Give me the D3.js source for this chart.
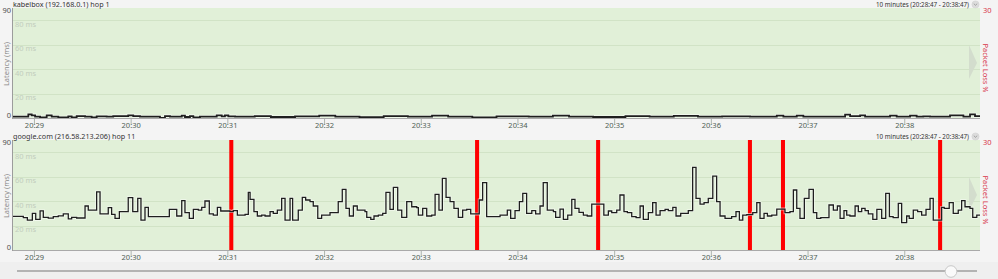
<!DOCTYPE html>
<html><head><meta charset="utf-8">
<script src="https://cdn.jsdelivr.net/npm/d3@7"></script>
<style>
html,body{margin:0;padding:0;background:#f4f4f4;}
svg{display:block;font-family:"Noto Sans",sans-serif;}
</style></head>
<body><svg id="c" width="998" height="279"></svg>
<script>
// ---- data ----
const rangeStart = "20:28:47";
const rangeEnd = "20:38:47";
const rangeLabel = "10 minutes (20:28:47 - 20:38:47)";
const yMaxLatency = 90;
const yMaxLoss = 30;
const gridValues = [20, 40, 60, 80];

const hop1Title = "kabelbox (192.168.0.1) hop 1";
const hop1T = [0,9.5,11.6,13.7,16.8,20.9,24.0,28.1,34.3,36.4,39.5,44.7,48.8,51.9,58.1,62.2,71.5,74.6,78.8,91.2,94.3,97.4,104.7,106.7,109.8,111.9,116.0,126.4,129.5,131.5,133.6,137.8,150,160,175,190,200,215,230,245,260,270,285,300,320,335,345,360,380,395,410,425,440,457.3,473.9,478.0,486.3,490.4,516.3,519.4,525.6,528.7,544.2,548.3,556.6,560.7,564.8,569.0,581.4,589.7,593.8,596.9,600];
const hop1Ms = [1.1,3.0,2.2,1.1,0.5,2.2,1.1,0.5,1.4,0.5,1.6,1.1,0.5,1.4,1.1,1.6,2.2,1.6,1.1,0,1.6,1.1,1.9,0.8,1.6,0.5,1.1,2.2,1.4,2.2,1.4,1.1,1.6,0.8,1.4,2.0,1.1,0.6,1.5,1.1,2.0,1.1,0.5,1.4,1.1,1.9,1.1,0.8,1.6,1.1,1.8,1.1,1.4,1.1,1.9,1.1,1.9,1.1,2.7,1.6,2.2,1.1,1.9,1.1,1.9,1.1,1.4,1.1,2.2,1.1,3.0,1.6,1.6];
const hop1LossT = [];

const hop11Title = "google.com (216.58.213.206) hop 11";
const hop11T = [0,6.4,8.9,12.0,14.1,16.8,18.8,21.9,25.0,28.1,31.2,34.3,36.4,39.5,44.7,46.7,51.9,54.0,59.1,61.2,63.3,66.0,71.5,74.3,77.4,79.4,81.9,84.0,97.0,101.6,104.7,106.7,109.4,111.9,115.0,117.1,119.1,121.8,124.3,126.8,128.9,134.6,136.7,139.2,144.0,146.0,
147.1,149.5,151.6,154.3,156.4,159.5,161.5,164.0,166.7,168.8,171.9,173.5,177.0,179.5,181.6,184.3,186.3,189.1,191.5,196.7,201.8,204.3,206.6,208.7,211.2,213.6,218.4,219.5,222.0,224.0,226.7,229.4,231.4,233.9,236.0,238.7,241.2,244.3,247.4,250.5,251.5,254.2,256.7,259.8,261.9,264.3,266.4,268.7,271.2,273.6,276.3,279.0,281.5,284.0,289.3,291.4,293.9,
302.2,306.7,308.8,311.5,314.2,316.3,318.7,321.9,324.3,327.0,329.0,331.5,335.3,336.7,339.4,341.5,344.2,346.7,348.7,351.2,353.9,356.3,359.1,366.6,369.4,371.5,374.6,376.6,379.1,381.2,383.9,386.6,389.1,391.1,394.2,396.9,399.0,401.5,404.6,406.6,409.4,411.4,414.3,419.0,421.7,423.8,426.3,428.8,431.4,434.2,436.6,438.7,441.8,445.9,448.6,450.7,452.8,455.3,
459.0,461.5,463.5,466.0,468.1,470.8,473.9,479.0,482.1,484.2,486.3,488.3,491.0,493.9,496.6,498.7,501.2,506.3,509.0,511.5,513.2,515.6,517.3,519.3,522.5,524.5,526.6,528.7,530.7,533.5,536.0,539.0,541.5,543.8,546.1,549.3,551.4,554.5,556.1,558.6,561.3,563.8,566.5,569.0,571.0,576.2,577.8,580.9,583.4,586.5,588.6,590.7,593.8,595.5,598.0,600];
const hop11Ms = [27.5,26.5,24.5,30,25,32,26.7,26,27.3,28,29.5,25.5,26.7,26.2,36,32.7,47.5,29.5,34.6,29.2,25.9,31.4,42.8,31.4,42.3,24.5,34.9,27.3,33.3,27.8,40.4,30.5,25.9,33.3,32.7,34.9,40.1,29.5,28.6,34.9,31.9,31.4,32.2,28.6,29.2,47.2,
41.5,31.4,27.8,28.6,27.8,31.4,30,32.7,42.3,24.5,42.3,24.5,32.7,43.1,40.9,39.5,36,25.9,28.6,30.5,39.5,49.6,34.1,27.8,36,32.7,31.4,26.7,25.1,27.8,28.6,30,47.2,33.3,51.3,32.7,26.7,39.5,35.4,34.6,28.6,34.1,27.8,28.6,45.5,32.7,58.6,43.1,39.5,34.1,26.7,32.7,33.3,29.5,40.9,55.1,27.3,
28.6,32.7,25.9,32.2,39.5,46.4,30,32.2,29.5,36,55.1,32.7,31.4,26.7,33.5,25.1,28.6,41.5,34.1,30.8,28.6,27.8,37.6,28.6,31.9,30.5,32.7,45,31.4,30.5,27.3,26.5,36,25.1,30.5,38.7,28.6,32.2,33.3,32.2,34.9,27.8,30,32.2,67.6,42.3,37.6,38.7,42.3,60.5,39.5,27.8,25.9,27.3,31.4,24.5,28.6,29,
30.5,38.7,25.9,30,27.8,28.6,33.5,30.5,31.4,49.1,34.1,25.9,42.3,49.6,30.5,25.9,26.5,36.8,32.7,36,25.9,32.2,28.6,27.8,36,31.4,34.1,32.2,29.5,25.1,33.3,25.9,46.4,27.3,26.5,38.2,22.4,27.8,25.9,32.7,31.4,28.6,33.3,42.3,24.5,34.9,34.1,38.7,30,32.7,40.4,35.4,34.1,26.7,28.6,28.6];
const hop11LossT = [134.2, 286.7, 361.8, 456.0, 476.5, 574.0];
const hop11LossPct = [100, 100, 100, 100, 100, 100];
const lossSampleSec = 2.5;

// ---- layout ----
const W = 998, H = 279;
const plotL = 13, plotR = 980;
const panels = [
  {title: hop1Title, t: hop1T, v: hop1Ms, lossT: hop1LossT, lossP: [], top: 8, bottom: 118, lineW: 1.8},
  {title: hop11Title, t: hop11T, v: hop11Ms, lossT: hop11LossT, lossP: hop11LossPct, top: 140, bottom: 250, lineW: 1.3}
];

const svg = d3.select("#c");
const parse = d3.timeParse("%H:%M:%S");
const t0 = parse(rangeStart), t1 = parse(rangeEnd);
const toDate = s => new Date(t0.getTime() + s * 1000);
const x = d3.scaleTime().domain([t0, t1]).range([plotL, plotR]);

svg.append("rect").attr("width", W).attr("height", H).attr("fill", "#f4f4f4");

panels.forEach(p => {
  const g = svg.append("g");
  const y = d3.scaleLinear().domain([0, yMaxLatency]).range([p.bottom, p.top]);
  const yl = d3.scaleLinear().domain([0, yMaxLoss]).range([p.bottom, p.top]);

  g.append("rect").attr("x", plotL).attr("y", p.top).attr("width", plotR - plotL)
    .attr("height", p.bottom - p.top).attr("fill", "#e1f0d8");

  // gridlines
  g.selectAll(".grid").data(gridValues).join("line")
    .attr("x1", plotL).attr("x2", plotR)
    .attr("y1", d => Math.round(y(d)) + 0.5).attr("y2", d => Math.round(y(d)) + 0.5)
    .attr("stroke", "#d1e3c6").attr("stroke-width", 1);
  g.selectAll(".gl").data(gridValues).join("text")
    .attr("x", plotL + 2).attr("y", d => y(d) + 6.5)
    .attr("font-size", 7.5).attr("fill", "#c2cdbd")
    .text(d => d + " ms");

  // triangle marker on right
  const mid = (p.top + p.bottom) / 2;
  g.append("path")
    .attr("d", `M${plotR - 11},${mid - 18} L${plotR - 3},${mid} L${plotR - 11},${mid + 16} Z`)
    .attr("fill", "#d3ddcd");

  // packet loss bars
  g.selectAll(".loss").data(p.lossT.map((t, i) => ({t, p: Math.min(p.lossP[i], yMaxLoss)}))).join("rect")
    .attr("x", d => x(toDate(d.t)))
    .attr("width", d => x(toDate(d.t + lossSampleSec)) - x(toDate(d.t)))
    .attr("y", d => yl(d.p)).attr("height", d => p.bottom - yl(d.p))
    .attr("fill", "#ff0000");

  // latency step line
  const pts = p.t.map((t, i) => [toDate(t), p.v[i]]);
  const line = d3.line().x(d => x(d[0])).y(d => y(d[1])).curve(d3.curveStepAfter);
  g.append("path").datum(pts).attr("d", line).attr("fill", "none")
    .attr("stroke", "#ffffff").attr("stroke-opacity", 0.55).attr("stroke-width", p.lineW + 1.6);
  g.append("path").datum(pts).attr("d", line).attr("fill", "none")
    .attr("stroke", "#1e1e1e").attr("stroke-width", p.lineW);

  // axes lines
  g.append("line").attr("x1", plotL - 0.5).attr("x2", plotL - 0.5).attr("y1", p.top).attr("y2", p.bottom + 1)
    .attr("stroke", "#9c9c9c");
  g.append("line").attr("x1", plotL).attr("x2", plotR).attr("y1", p.bottom + 0.5).attr("y2", p.bottom + 0.5)
    .attr("stroke", "#a9a9a9");

  // x axis
  const xa = d3.axisBottom(x).ticks(d3.timeMinute.every(1)).tickFormat(d3.timeFormat("%H:%M"))
    .tickSize(5).tickPadding(-1);
  const ax = g.append("g").attr("transform", `translate(0,${p.bottom + 1})`).call(xa);
  ax.select(".domain").remove();
  ax.selectAll(".tick line").attr("stroke", "#9aa59a").attr("stroke-width", 0.8);
  ax.selectAll(".tick text").attr("font-size", 7.5).attr("fill", "#4f5f55").attr("font-family", "Noto Sans");

  // y axis labels (0 and max)
  const ya = d3.axisLeft(y).tickValues([0, yMaxLatency]).tickSize(0).tickPadding(2);
  const ay = g.append("g").attr("transform", `translate(${plotL},0)`).call(ya);
  ay.select(".domain").remove();
  ay.selectAll(".tick text").attr("font-size", 7.5).attr("fill", "#505050").attr("font-family", "Noto Sans")
    .attr("dy", (d) => d === 0 ? "-0.05em" : "0.6em");

  g.append("text").attr("transform", `translate(9,${mid + 1}) rotate(-90)`)
    .attr("text-anchor", "middle").attr("font-size", 7.5).attr("fill", "#8a8a8a").text("Latency (ms)");

  // right loss axis
  g.append("text").attr("x", plotR + 3).attr("y", p.top + 5).attr("font-size", 7.5)
    .attr("fill", "#d8344a").text(String(yMaxLoss));
  g.append("text").attr("transform", `translate(${plotR + 3},${mid + 5}) rotate(90)`)
    .attr("text-anchor", "middle").attr("font-size", 7.5).attr("fill", "#d8344a").text("Packet Loss %");

  // titles
  g.append("text").attr("x", plotL).attr("y", p.top - 1).attr("font-size", 7.2)
    .attr("fill", "#333").text(p.title);
  g.append("text").attr("x", 969).attr("y", p.top - 1).attr("text-anchor", "end").attr("font-size", 7.2)
    .attr("textLength", 93).attr("lengthAdjust", "spacingAndGlyphs")
    .attr("fill", "#333").text(rangeLabel);
  g.append("circle").attr("cx", 975.5).attr("cy", p.top - 3.5).attr("r", 3.6)
    .attr("fill", "#dcdcdc").attr("stroke", "#cfcfcf").attr("stroke-width", 0.5);
  g.append("path").attr("d", `M973.8,${p.top - 4.3} L975.5,${p.top - 2.7} L977.2,${p.top - 4.3}`)
    .attr("fill", "none").attr("stroke", "#888").attr("stroke-width", 0.7);
});

// slider
svg.append("rect").attr("x", 0).attr("y", 262).attr("width", W).attr("height", H - 262).attr("fill", "#efefef");
svg.append("line").attr("x1", 17).attr("x2", 977).attr("y1", 271).attr("y2", 271)
  .attr("stroke", "#b3b3b3").attr("stroke-width", 2);
svg.append("circle").attr("cx", 951).attr("cy", 271.5).attr("r", 5.8)
  .attr("fill", "#fafafa").attr("stroke", "#c8c8c8").attr("stroke-width", 1);
</script></body></html>
